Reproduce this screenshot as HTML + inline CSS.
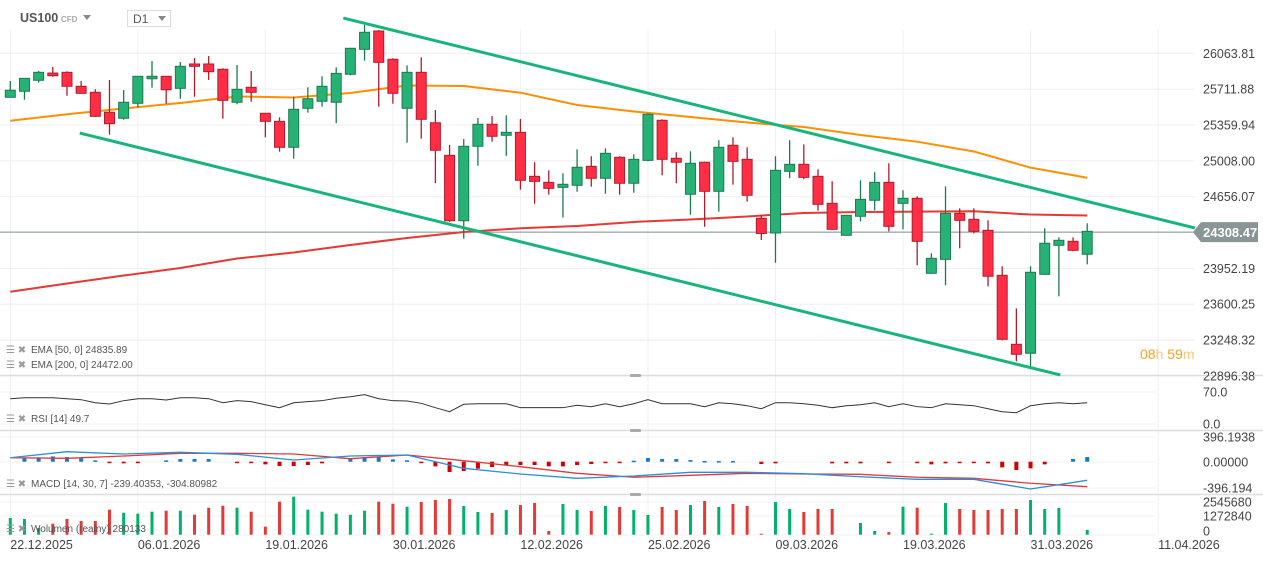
<!DOCTYPE html>
<html><head><meta charset="utf-8">
<style>
html,body{margin:0;padding:0;background:#fff;}
svg{display:block;font-family:"Liberation Sans",Arial,sans-serif;}
</style></head>
<body>
<svg id="chart" width="1263" height="561" viewBox="0 0 1263 561" xmlns="http://www.w3.org/2000/svg">
<g id="grid"></g>
<g id="main"></g>
<g id="panels"></g>
<g id="axes"></g>
<g>
  <text x="20" y="22" font-size="12.5" font-weight="bold" fill="#555">US100</text>
  <text x="61" y="22" font-size="8" font-weight="bold" fill="#aaa">CFD</text>
  <path d="M83,15 L91,15 L87,20 Z" fill="#888"/>
  <rect x="127.5" y="10.5" width="43" height="16" fill="#fff" stroke="#ddd"/>
  <text x="133" y="23" font-size="12" fill="#555">D1</text>
  <path d="M158,16 L166,16 L162,21 Z" fill="#888"/>
</g>
<text x="1140" y="359" font-size="14" fill="#f7a11b">08<tspan fill="#f9c77a">h</tspan> 59<tspan fill="#f9c77a">m</tspan></text>
<g font-size="10" fill="#555">
  <text x="6" y="353" fill="#999">☰ ✖</text>
  <text x="31" y="353">EMA [50, 0] 24835.89</text>
  <text x="6" y="368" fill="#999">☰ ✖</text>
  <text x="31" y="368">EMA [200, 0] 24472.00</text>
  <text x="6" y="422" fill="#999">☰ ✖</text>
  <text x="31" y="422">RSI [14] 49.7</text>
  <text x="6" y="487" fill="#999">☰ ✖</text>
  <text x="31" y="487">MACD [14, 30, 7] -239.40353, -304.80982</text>
  <text x="6" y="532" fill="#999">☰ ✖</text>
  <text x="31" y="532">Wolumen (realny) 280133</text>
</g>
</svg>
<script>
// ---- data ----
const opens  = [25632,25691,25799,25870,25877,25740,25681,25485,25426,25573,25814,25838,25720,25959,25959,25907,25583,25730,25475,25396,25141,25524,25593,25583,25858,26103,26283,26005,25524,25877,25382,25062,24420,25151,25367,25259,25288,24856,24797,24748,24768,24954,24837,25043,24788,25013,25406,25033,24680,24994,24709,25161,25023,24444,24300,24905,24974,24856,24591,24277,24464,24621,24797,24591,24640,23904,24041,24493,24434,24326,23884,23207,23119,23894,24179,24218,24091];
const highs  = [25792,25820,25890,25929,25887,25792,25710,25802,25703,25840,25988,25840,25978,26018,26037,25917,25949,25890,25478,25435,25638,25730,25838,25926,26118,26341,26292,26015,25946,26024,25507,25164,25222,25429,25448,25455,25419,24994,24915,24886,25121,25053,25131,25053,25072,25475,25416,25092,25102,25000,25210,25239,25141,24476,25053,25210,25170,24925,24807,24478,24817,24896,24984,24719,24660,24100,24758,24542,24542,24424,23973,23560,23973,24346,24257,24257,24395];
const lows   = [25630,25608,25775,25834,25647,25668,25440,25265,25412,25534,25726,25569,25618,25638,25802,25422,25563,25589,25239,25098,25029,25481,25540,25377,25848,25991,25540,25569,25186,25225,24788,24408,24244,24960,25196,25058,24725,24587,24676,24450,24705,24754,24685,24676,24695,25003,24866,24788,24479,24361,24509,24774,24607,24231,24008,24837,24827,24519,24330,24272,24414,24522,24316,24336,23983,23900,23786,24149,24296,23776,23246,23040,22991,23890,23678,24120,23992];
const closes = [25701,25818,25877,25844,25740,25671,25445,25373,25583,25838,25838,25706,25936,25936,25883,25602,25710,25681,25396,25141,25514,25618,25740,25867,26113,26270,25975,25671,25877,25416,25112,24420,25151,25367,25249,25288,24817,24807,24738,24778,24945,24837,25082,24788,25023,25465,25023,24994,24984,24709,25141,25003,24670,24295,24915,24974,24846,24581,24336,24473,24630,24797,24365,24640,24218,24051,24493,24424,24316,23875,23256,23109,23914,24199,24228,24130,24316];
const emaIdx = [0,4,8,12,16,20,24,28,32,36,40,44,48,52,56,60,64,68,72,76];
const ema50  = [25402,25465,25522,25576,25640,25630,25674,25748,25743,25677,25556,25492,25438,25384,25340,25262,25196,25100,24941,24842];
const ema200 = [23723,23804,23882,23956,24049,24108,24182,24251,24310,24346,24368,24408,24432,24462,24496,24506,24509,24513,24481,24472];
const upperChannel = [[23.5,26410],[83.6,24349]];
const lowerChannel = [[4.9,25281],[74.1,22906]];
const rsi = [55.6,57.8,57.8,57.8,55.6,53.4,46.7,43.9,51.2,55.6,55.6,52.7,57.8,57.8,55.6,46.7,51.2,49,42.3,35.7,46.7,49,51.2,56.5,60,64.5,55.6,51.2,50.5,45.4,35.7,26.8,43.2,44.5,44.5,44.5,35.7,35.7,35.7,35.7,41,37.9,44.5,37.9,44.5,53.4,44.5,44.5,44.5,37.9,46.7,44.5,40.1,33.4,46.7,46.7,44.5,41,35.7,40.1,42.3,46.7,37.9,44.5,37.9,35.7,44.5,42.3,40.1,33.4,26.8,24.6,40.1,44.5,46.7,44.5,46.7];
const macdHist = [0,63,69,84,74,53,21,-16,-26,-10,0,21,42,42,42,0,-10,-10,-42,-69,-69,-53,-26,0,53,74,74,37,21,-21,-74,-164,-148,-111,-84,-53,-53,-53,-74,-74,-53,-37,-10,-10,16,58,42,42,26,10,10,10,0,-37,-26,0,0,0,-26,-26,-26,0,-10,0,-10,-42,-26,-10,-10,-26,-90,-132,-106,-42,0,42,74];
const macdLine = [63,159,122,149,117,27,90,106,-105,-195,-263,-227,-168,-168,-190,-238,-279,-279,-433,-295];
const signalLine = [63,54,90,133,133,122,48,106,16,-79,-184,-247,-216,-184,-195,-200,-247,-263,-342,-396];
const volumes = [1288,1211,517,849,1211,1057,1057,1929,1697,1620,1774,1851,1851,1543,2083,2237,2083,1774,617,2546,2931,1929,1774,1620,1543,1851,2546,2391,2160,2522,2677,2754,2214,1751,1674,1905,2291,2445,285,2368,1905,1828,2214,2137,1905,1520,2137,1905,2291,2600,2137,2368,2214,77,2522,1983,1751,1983,1983,0,903,285,208,2160,2083,77,2445,1983,1905,1905,1983,1983,2677,1983,2060,0,363];
const priceTicks = [26063.81,25711.88,25359.94,25008.00,24656.07,23952.19,23600.25,23248.32,22896.38];
const dateLabels = ["22.12.2025","06.01.2026","19.01.2026","30.01.2026","12.02.2026","25.02.2026","09.03.2026","19.03.2026","31.03.2026","11.04.2026"];
const dateIdx = [0,9,18,27,36,45,54,63,72,81];
const currentPrice = 24308.47;

// ---- scales ----
const NS="http://www.w3.org/2000/svg";
const xi = i => 10.3 + 14.17*i;
const py = p => (26587 - p)/9.817;
const ry = v => 423.8 - v/2.215;
const my = v => 461.7 - v/15.85;
const vy = v => 534.7 - v/77.142;
function mk(tag, attrs, parent){const e=document.createElementNS(NS,tag);for(const k in attrs)e.setAttribute(k,attrs[k]);parent.appendChild(e);return e;}
const grid=document.getElementById('grid'), main=document.getElementById('main'), panels=document.getElementById('panels'), axes=document.getElementById('axes');
const W=1195;

dateIdx.forEach((di,k)=>{
  const x=xi(di);
  const l=mk('line',{x1:x,x2:x,y1:30,y2:535,stroke:'#f0f0f0','stroke-width':1},grid);
  
  
  const t=mk('text',{x:x,y:549,'font-size':12.5,fill:'#444'},axes);
  t.textContent=dateLabels[k];
  
  
});
priceTicks.forEach(p=>{
  const y=py(p);
  const l=mk('line',{x1:0,x2:W,y1:y,y2:y,stroke:'#eee','stroke-width':1},grid);
  
  
  const t=mk('text',{x:1203,y:y+4.5,'font-size':12.5,fill:'#444'},axes);
  t.textContent=p.toFixed(2);
  
  
});
[[375.5,'#ddd'],[430.5,'#ddd'],[494.5,'#ddd']].forEach(([y,c])=>{
  const l=mk('line',{x1:0,x2:1263,y1:y,y2:y,stroke:c,'stroke-width':1.5},grid);
  
  
  const h=mk('rect',{x:630,y:y-1.5,width:11,height:3,fill:'#aaa',rx:1},grid);
  
  
});
const panelTicks=[[392,'70.0'],[424,'0.0'],[437,'396.1938'],[462,'0.00000'],[488,'-396.194'],[502,'2545680'],[516,'1272840'],[535,'0']];
panelTicks.forEach(([y,s])=>{
  const l=mk('line',{x1:0,x2:1155,y1:y,y2:y,stroke:'#f0f0f0','stroke-width':1},grid);
  
  
  const t=mk('text',{x:1203,y:(s==='0'?531:y)+4.5,'font-size':12.5,fill:'#444'},axes);
  t.textContent=s;
  
  
});

const cy=py(currentPrice);
const cl=mk('line',{x1:0,x2:1195,y1:cy,y2:cy,stroke:'#7f8c8d','stroke-width':1},main);



function polyline(idx, vals, fn, color, w, parent){
  return mk('polyline',{points:idx.map((d,k)=>xi(d)+','+fn(vals[k])).join(' '),fill:'none',stroke:color,'stroke-width':w,'stroke-linejoin':'round'},parent);
}
const e200=polyline(emaIdx,ema200,py,'#e53935',2,main);


const e50=polyline(emaIdx,ema50,py,'#ff8f00',2,main);



opens.forEach((o,i)=>{
  const c=closes[i], up=c>=o, x=xi(i);
  const g=mk('g',{},main);
  
  
  const wc=up?'#1d7a50':'#b01c2e';
  mk('line',{x1:x,x2:x,y1:py(highs[i]),y2:py(lows[i]),stroke:wc,'stroke-width':1.3},g);
  const top=py(Math.max(o,c)), bot=py(Math.min(o,c));
  mk('rect',{x:x-5,y:top,width:10,height:Math.max(1.5,bot-top),fill:up?'#27b275':'#ff2e45',stroke:wc,'stroke-width':1},g);
});

[[upperChannel,'upper-channel-line'],[lowerChannel,'lower-channel-line']].forEach(([pts,n])=>{
  const l=mk('line',{x1:xi(pts[0][0]),y1:py(pts[0][1]),x2:xi(pts[1][0]),y2:py(pts[1][1]),stroke:'#17b57a','stroke-width':3},main);
  
  
});

const tag=mk('g',{},axes);


mk('path',{d:`M1193,${cy} L1201,${cy-10} L1258,${cy-10} L1258,${cy+10} L1201,${cy+10} Z`,fill:'#8a9597'},tag);
const tt=mk('text',{x:1203,y:cy+5,'font-size':13,'font-weight':'bold',fill:'#fff'},tag);
tt.textContent=currentPrice.toFixed(2);

const rl=mk('polyline',{points:rsi.map((v,i)=>xi(i)+','+ry(v)).join(' '),fill:'none',stroke:'#333','stroke-width':1},panels);



macdHist.forEach((v,i)=>{
  if(v===0) return;
  const y0=my(0), y1=my(v);
  const r=mk('rect',{x:xi(i)-2,y:Math.min(y0,y1),width:4,height:Math.max(1.5,Math.abs(y1-y0)),fill:v>0?'#1479c9':'#d40000'},panels);
  
  
});
const sl=polyline(emaIdx,signalLine,my,'#e0393e',1.3,panels);


const ml=polyline(emaIdx,macdLine,my,'#2a8fd6',1.3,panels);



volumes.forEach((v,i)=>{
  if(v===0) return;
  const up=closes[i]>=opens[i];
  const r=mk('rect',{x:xi(i)-1.5,y:vy(v),width:3,height:534.7-vy(v),fill:up?'#00b16a':'#e53935'},panels);
  
  
});
</script>
</body></html>
